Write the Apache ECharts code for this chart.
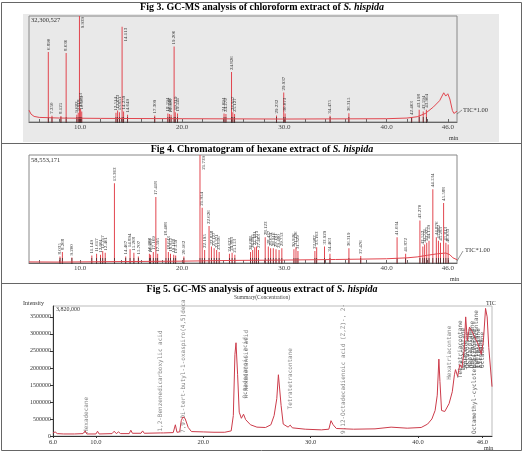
<!DOCTYPE html>
<html>
<head>
<meta charset="utf-8">
<script src="https://cdn.jsdelivr.net/npm/echarts@6/dist/echarts.min.js"></script>
<style>
  html, body { margin: 0; padding: 0; background: #fff; }
  #chart { width: 524px; height: 452px; }
</style>
</head>
<body>
<div id="chart"></div>
<script>
// Fig 3 - chloroform extract, intensities in millions of counts
const chlMax = 32.300527;
const chlBaseline = [
  [5.0, 3.6], [5.2, 2.4], [5.5, 1.7], [6.0, 1.4], [8.0, 1.2], [12.0, 1.1], [20.0, 1.0],
  [30.0, 0.9], [40.0, 1.0], [42.0, 1.2], [43.0, 1.6], [43.8, 2.6], [44.6, 4.6], [45.2, 6.5],
  [45.6, 8.9], [45.8, 7.9], [46.0, 8.6], [46.2, 7.0], [46.45, 3.5], [46.6, 2.6], [46.75, 2.7], [46.9, 3.3]
];
const chlPeaks = [
  [6.890, 21.3], [7.250, 1.9], [8.125, 1.8], [8.636, 21.0], [9.683, 2.2], [9.818, 2.8],
  [9.939, 32.3], [10.053, 4.0], [10.163, 3.2], [13.514, 2.8], [13.673, 3.5], [13.851, 3.0],
  [14.113, 29.0], [14.259, 3.2], [14.649, 2.2], [17.309, 2.0], [18.594, 2.6], [18.748, 2.4],
  [18.908, 2.2], [19.206, 23.0], [19.319, 3.0], [19.541, 2.6], [24.094, 2.6], [24.279, 2.4],
  [24.826, 15.2], [24.957, 3.0], [25.127, 2.4], [29.232, 2.0], [29.937, 9.0], [30.073, 2.6],
  [34.475, 1.9], [36.315, 2.7], [42.463, 1.5], [43.198, 3.7], [43.594, 3.2], [43.904, 3.7]
];

// Fig 4 - hexane extract, intensities in millions of counts
const hexMax = 58.553171;
const hexBaseline = [
  [5.0, 0.6], [8.0, 0.5], [12.0, 0.7], [20.0, 1.0], [25.0, 1.4], [30.0, 1.6], [35.0, 1.9],
  [40.0, 2.3], [42.0, 2.8], [43.0, 3.3], [44.0, 4.2], [45.0, 5.0], [45.8, 5.4], [46.2, 4.5],
  [46.5, 2.8], [46.9, 1.8]
];
const hexPeaks = [
  [8.035, 3.5], [8.268, 6.0], [9.200, 3.0], [11.149, 4.0], [11.617, 5.0], [12.001, 4.5],
  [12.217, 6.5], [12.461, 5.5], [13.363, 43.3], [14.467, 3.5], [14.894, 7.5], [15.268, 5.5],
  [15.707, 3.5], [16.788, 5.0], [16.903, 4.5], [17.169, 6.0], [17.418, 35.8], [17.595, 5.0],
  [18.408, 13.5], [18.643, 6.0], [18.852, 5.0], [19.168, 4.5], [19.359, 4.0], [20.162, 3.5],
  [21.739, 58.55], [21.954, 30.0], [22.195, 7.0], [22.626, 20.0], [22.858, 9.0], [23.127, 8.0],
  [23.371, 7.0], [23.616, 6.0], [24.623, 5.0], [24.883, 5.5], [25.153, 4.5], [26.688, 6.0],
  [26.895, 7.0], [27.101, 8.5], [27.273, 9.0], [27.463, 7.0], [28.123, 14.0], [28.427, 9.0],
  [28.654, 8.0], [28.916, 8.0], [29.181, 7.5], [29.480, 7.0], [29.753, 8.0], [30.936, 7.5],
  [31.136, 8.5], [31.329, 6.5], [32.987, 6.5], [33.163, 8.5], [33.929, 9.0], [34.463, 5.0],
  [36.319, 8.0], [37.476, 3.8], [41.034, 14.0], [41.872, 5.0], [43.270, 23.0], [43.552, 9.0],
  [43.731, 10.0], [43.935, 11.0], [44.159, 12.0], [44.534, 40.0], [44.876, 14.0], [45.082, 12.0],
  [45.283, 11.0], [45.588, 32.5], [45.813, 11.0], [46.033, 10.0]
];

// Fig 5 - aqueous extract, TIC in counts
const aqTrace = [
  [6.0, 90000], [6.2, 120000], [6.4, 70000], [7.0, 60000], [8.0, 60000], [8.8, 70000], [9.0, 150000],
  [9.15, 60000], [10.0, 60000], [10.15, 140000], [10.3, 60000], [11.5, 70000], [11.7, 140000],
  [11.9, 70000], [12.1, 120000], [12.3, 70000], [13.1, 70000], [13.25, 170000], [13.4, 80000],
  [14.2, 80000], [14.35, 150000], [14.5, 80000], [16.0, 90000], [16.15, 140000], [16.3, 90000],
  [17.2, 100000], [17.4, 330000], [17.55, 110000], [17.8, 120000], [17.95, 450000], [18.1, 560000],
  [18.3, 520000], [18.45, 560000], [18.6, 250000], [18.9, 130000], [20.0, 120000], [21.0, 110000],
  [22.0, 110000], [22.6, 150000], [22.8, 600000], [22.95, 2400000], [23.05, 2740000], [23.2, 1800000],
  [23.35, 700000], [23.55, 520000], [23.75, 640000], [23.95, 480000], [24.4, 330000], [25.0, 260000],
  [25.8, 250000], [26.3, 330000], [26.6, 600000], [26.85, 1100000], [27.0, 1800000], [27.1, 1820000],
  [27.25, 900000], [27.45, 350000], [27.9, 260000], [28.1, 320000], [28.3, 240000], [29.5, 200000],
  [31.0, 180000], [31.7, 200000], [31.9, 450000], [32.1, 330000], [32.4, 220000], [34.0, 200000],
  [36.0, 210000], [37.5, 260000], [39.0, 230000], [40.3, 250000], [40.9, 350000], [41.3, 500000],
  [41.6, 750000], [41.8, 1200000], [41.95, 2260000], [42.05, 1600000], [42.2, 750000], [42.5, 720000],
  [42.9, 950000], [43.2, 1300000], [43.4, 1800000], [43.5, 1950000], [43.7, 1750000], [43.9, 2100000],
  [44.1, 2000000], [44.3, 2500000], [44.45, 3500000], [44.6, 2800000], [44.8, 3200000], [45.0, 3100000],
  [45.3, 2900000], [45.6, 2700000], [45.9, 2400000], [46.1, 2800000], [46.3, 3750000], [46.45, 3500000],
  [46.6, 2600000], [46.9, 1450000]
];
// compound names: [retention time, where the text starts, name]
const aqNames = [
  [9.1, 90000, 'Hexadecane'],
  [16.0, 130000, '1,2-Benzenedicarboxylic acid'],
  [18.15, 90000, '7,9-Di-tert-butyl-1-oxaspiro(4,5)deca'],
  [23.95, 1100000, 'Octadecanoic acid'],
  [24.05, 1100000, 'n-Hexadecanoic acid'],
  [28.15, 780000, 'Tetratetracontane'],
  [33.1, 60000, '9,12-Octadecadienoic acid (Z,Z)-, 2-'],
  [42.9, 1650000, 'Hexatriacontane'],
  [44.0, 1700000, 'Tetratriacontane'],
  [44.25, 1900000, 'Tetracontane'],
  [44.45, 1950000, 'Squalene'],
  [44.65, 2000000, 'Octacosane'],
  [44.85, 2000000, 'Heptacosane'],
  [45.05, 2000000, 'Dotriacontane'],
  [45.25, 60000, 'Octamethyl-cyclotetrasiloxane'],
  [45.45, 2000000, 'Pentatriacontane'],
  [45.65, 2000000, 'Tetracosane'],
  [45.85, 2000000, 'Eicosane'],
  [46.05, 2000000, 'Octadecane']
];
const aqTicks = [0, 500000, 1000000, 1500000, 2000000, 2500000, 3000000, 3500000];

const chart = echarts.init(document.getElementById('chart'));
const serif = 'Liberation Serif';
const red = '#e2464f';
const minorTicks = [6, 8, 12, 14, 16, 18, 22, 24, 26, 28, 32, 34, 36, 38, 42, 44];

function xAxisFor(gridIndex, min, labels) {
  return {
    type: 'value', gridIndex: gridIndex, min: min, max: 46.9,
    axisLine: { show: true, lineStyle: { color: '#666', width: 1 } },
    axisTick: { show: true, inside: true, length: 3, lineStyle: { color: '#666' },
      customValues: labels.concat(minorTicks) },
    axisLabel: { customValues: labels, formatter: v => v.toFixed(1),
      fontFamily: serif, fontSize: 7, color: '#444', margin: 2 },
    splitLine: { show: false }
  };
}

function peakLabel(name, clipped) {
  const base = { show: true, formatter: name, rotate: 90, fontFamily: serif, fontSize: 5,
    color: '#333', verticalAlign: 'middle' };
  if (clipped) return Object.assign(base, { position: [4, 1], align: 'right' });
  return Object.assign(base, { position: 'top', align: 'left', distance: 2 });
}

function peakBars(peaks, xIdx, max) {
  return {
    type: 'bar', xAxisIndex: xIdx, yAxisIndex: xIdx, barWidth: 1, silent: true,
    itemStyle: { color: red },
    data: peaks.map(p => ({
      value: [p[0], p[1]],
      label: peakLabel(p[0].toFixed(3), p[1] >= max * 0.85)
    }))
  };
}

function rtMarks(peaks, xIdx) {
  return {
    type: 'scatter', xAxisIndex: xIdx, yAxisIndex: xIdx, symbol: 'rect',
    symbolSize: [0.8, 6], symbolOffset: [0, -2], silent: true, clip: false,
    itemStyle: { color: '#222' },
    data: peaks.map(p => [p[0], 0])
  };
}

function titleFor(num, text, top) {
  return {
    text: '{b|Fig ' + num + '. ' + text + ' }{i|S. hispida}',
    left: 'center', top: top, padding: 0,
    textStyle: {
      rich: {
        b: { fontFamily: serif, fontWeight: 'bold', fontSize: 10, color: '#000' },
        i: { fontFamily: serif, fontWeight: 'bold', fontStyle: 'italic', fontSize: 10, color: '#000' }
      }
    }
  };
}

const smallText = (x, y, text, extra) => ({
  type: 'text', x: x, y: y, silent: true,
  style: Object.assign({ text: text, fontFamily: serif, fontSize: 6.5, fill: '#333',
    textVerticalAlign: 'middle' }, extra || {})
});

chart.setOption({
  animation: false,
  title: [
    titleFor(3, 'GC-MS analysis of chloroform extract of', 2.5),
    titleFor(4, 'Chromatogram of hexane extract of', 144),
    titleFor(5, 'GC-MS analysis of aqueous extract of', 284),
    { text: 'Summary(Concentration)', left: 'center', top: 295, padding: 0,
      textStyle: { fontFamily: serif, fontSize: 5.5, fontWeight: 'normal', color: '#444' } }
  ],
  grid: [
    { left: 29, top: 16, width: 428, height: 106, show: true, borderColor: '#888', borderWidth: 1 },
    { left: 29, top: 155, width: 428, height: 108, show: true, borderColor: '#888', borderWidth: 1 },
    { left: 53, top: 306, width: 439, height: 130, show: true, borderColor: '#bbb', borderWidth: 1 }
  ],
  xAxis: [
    xAxisFor(0, 5, [10, 20, 30, 40, 46]),
    xAxisFor(1, 5, [10, 20, 30, 40, 46]),
    Object.assign(xAxisFor(2, 6, [6, 10, 20, 30, 40, 46]), {
      axisLine: { show: true, lineStyle: { color: '#333' } },
      axisTick: { show: true, inside: false, length: 2, lineStyle: { color: '#333' },
        customValues: [6, 10, 20, 30, 40, 46] },
      axisLabel: { customValues: [6, 10, 20, 30, 40, 46], formatter: v => v.toFixed(1),
        fontFamily: serif, fontSize: 6.5, color: '#333', margin: 3 }
    })
  ],
  yAxis: [
    { type: 'value', gridIndex: 0, min: 0, max: chlMax, show: false },
    { type: 'value', gridIndex: 1, min: 0, max: hexMax, show: false },
    { type: 'value', gridIndex: 2, min: 0, max: 3820000,
      axisLine: { show: true, lineStyle: { color: '#333' } },
      axisTick: { show: true, length: 3, customValues: aqTicks, lineStyle: { color: '#333' } },
      axisLabel: { customValues: aqTicks, formatter: v => String(v), fontFamily: serif,
        fontSize: 6, color: '#333', margin: 2 },
      splitLine: { show: false } }
  ],
  series: [
    { type: 'line', xAxisIndex: 0, yAxisIndex: 0, data: chlBaseline, symbol: 'none',
      lineStyle: { color: red, width: 1 }, silent: true },
    peakBars(chlPeaks, 0, chlMax),
    rtMarks(chlPeaks, 0),
    { type: 'line', xAxisIndex: 1, yAxisIndex: 1, data: hexBaseline, symbol: 'none',
      lineStyle: { color: red, width: 1 }, silent: true },
    peakBars(hexPeaks, 1, hexMax),
    rtMarks(hexPeaks, 1),
    { type: 'line', xAxisIndex: 2, yAxisIndex: 2, data: aqTrace, symbol: 'none',
      lineStyle: { color: '#cc3b4a', width: 1 }, silent: true },
    { type: 'scatter', xAxisIndex: 2, yAxisIndex: 2, symbolSize: 0, silent: true,
      data: aqNames.map(n => ({
        value: [n[0], n[1]],
        label: { show: true, formatter: n[2], rotate: 90, position: 'top', distance: 0,
          align: 'left', verticalAlign: 'middle', fontFamily: 'DejaVu Sans Mono', fontSize: 6,
          color: n[0] > 43.5 ? '#333' : '#666' }
      })) }
  ],
  graphic: [
    { type: 'rect', z: -10, silent: true, shape: { x: 23, y: 14, width: 476, height: 128 },
      style: { fill: '#e9e9e9' } },
    { type: 'rect', silent: true, shape: { x: 1.5, y: 2.5, width: 520, height: 448 },
      style: { fill: 'none', stroke: '#666', lineWidth: 1 } },
    { type: 'line', silent: true, shape: { x1: 1.5, y1: 143.5, x2: 521.5, y2: 143.5 },
      style: { stroke: '#666', lineWidth: 1 } },
    { type: 'line', silent: true, shape: { x1: 1.5, y1: 283.5, x2: 521.5, y2: 283.5 },
      style: { stroke: '#666', lineWidth: 1 } },
    smallText(31, 20, '32,300,527'),
    smallText(31, 160, '58,553,171'),
    { type: 'polyline', silent: true, shape: { points: [[457, 114], [462, 110]] },
      style: { stroke: '#555', lineWidth: 0.6, fill: 'none' } },
    smallText(463, 110, 'TIC*1.00'),
    { type: 'polyline', silent: true, shape: { points: [[457, 261], [463, 251]] },
      style: { stroke: '#555', lineWidth: 0.6, fill: 'none' } },
    smallText(465, 250, 'TIC*1.00'),
    smallText(449, 138, 'min', { fontSize: 6 }),
    smallText(450, 279, 'min', { fontSize: 6 }),
    smallText(484, 448, 'min', { fontSize: 6 }),
    smallText(23, 303, 'Intensity', { fontSize: 6 }),
    smallText(56, 309.5, '3,820,000', { fontSize: 6 }),
    smallText(486, 303, 'TIC', { fontSize: 6 })
  ]
});
</script>
</body>
</html>
